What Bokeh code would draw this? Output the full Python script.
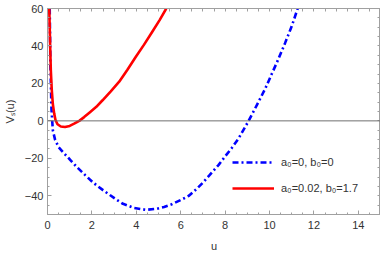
from bokeh.plotting import figure
from bokeh.models import Range1d, Span, Legend, LegendItem, LinearAxis, SingleIntervalTicker, FixedTicker
from bokeh.embed import file_html
from bokeh.resources import INLINE

# blue: a0=0, b0=0
u_blue = [0.10, 0.13, 0.18, 0.24, 0.34, 0.5, 0.72, 1.0, 1.31, 1.7, 2.06, 2.5, 2.81,
          3.1, 3.4, 3.9, 4.43, 4.9, 5.25, 5.6, 6.0, 6.37, 6.7, 7.0, 7.3, 7.71, 8.0,
          8.3, 8.6, 9.06, 9.5, 9.8, 10.1, 10.4, 10.7, 11.0, 11.27]
v_blue = [60, 30, 6, -5, -10, -14, -17, -20.5, -24.5, -29, -33, -37, -39.6,
          -42, -44.3, -46.5, -47.5, -47, -46, -44.5, -42.3, -40, -36.5, -33, -29, -23.5, -19,
          -14.5, -9.5, 0, 10, 17, 25, 33, 41.5, 50.5, 60]

# red: a0=0.02, b0=1.7
u_red = [0.08, 0.10, 0.12, 0.15, 0.19, 0.24, 0.30, 0.36, 0.45, 0.6, 0.79, 1.0, 1.2,
         1.43, 1.65, 1.9, 2.2, 2.48, 2.85, 3.23, 3.6, 3.98, 4.35, 4.72, 5.05, 5.35]
v_red = [60, 50, 40, 27, 17, 9, 4, 0.5, -1.8, -3, -3.3, -2.7, -1.5,
         0, 2, 4.5, 7.5, 11, 15.8, 20.9, 27.3, 34.2, 40.7, 47.6, 53.8, 60]

label_blue = "a₀=0, b₀=0"
label_red = "a₀=0.02, b₀=1.7"

FONT = "Liberation Sans"
FRAME = "#a0a0a0"

p = figure(frame_width=333, frame_height=206, output_backend="svg", toolbar_location=None,
           x_range=Range1d(0, 15), y_range=Range1d(-50, 60),
           min_border_left=36, min_border_right=0, min_border_top=8, min_border_bottom=0)
p.grid.visible = False
p.outline_line_color = FRAME
p.background_fill_color = "white"

p.add_layout(Span(location=0, dimension="width", line_color="#707070", line_width=1))

r_blue = p.line(u_blue, v_blue, line_color="#0000ff", line_width=2.6, line_dash="6 3 2 3")
r_red = p.line(u_red, v_red, line_color="#ff0000", line_width=2.6)

def style(ax):
    ax.axis_line_color = FRAME
    ax.major_tick_line_color = FRAME
    ax.minor_tick_line_color = FRAME
    ax.major_tick_in = 4
    ax.major_tick_out = 0
    ax.minor_tick_in = 2
    ax.minor_tick_out = 0
    ax.major_label_text_font = FONT
    ax.major_label_text_font_size = "11px"
    ax.major_label_text_color = "#333333"
    ax.axis_label_text_font = FONT
    ax.axis_label_text_font_size = "11px"
    ax.axis_label_text_font_style = "normal"
    ax.axis_label_text_color = "#333333"

p.xaxis.ticker = SingleIntervalTicker(interval=2, num_minor_ticks=4)
p.yaxis.ticker = SingleIntervalTicker(interval=20, num_minor_ticks=4)
p.xaxis.axis_label = "u"
p.yaxis.axis_label = "Vₛ(u)"
style(p.xaxis[0])
style(p.yaxis[0])
p.xaxis.major_label_standoff = 6
p.xaxis.axis_label_standoff = 8
p.yaxis.major_label_standoff = 4
p.yaxis.axis_label_standoff = 6

# tick marks only on the top and right frame edges
top = LinearAxis(ticker=FixedTicker(ticks=[], minor_ticks=[i * 0.5 for i in range(31)]))
right = LinearAxis(ticker=FixedTicker(ticks=[], minor_ticks=[-50 + 5 * i for i in range(23)]))
for ax in (top, right):
    style(ax)
    ax.minor_tick_in = 3
    ax.major_label_standoff = 0
    ax.axis_label_standoff = 0
p.add_layout(top, "above")
p.add_layout(right, "right")

legend = Legend(items=[LegendItem(label=label_blue, renderers=[r_blue]),
                       LegendItem(label=label_red, renderers=[r_red])],
                location=(185, 16), orientation="vertical",
                background_fill_alpha=0, border_line_alpha=0,
                padding=0, margin=0, spacing=6,
                glyph_width=42, glyph_height=20, label_height=20,
                label_text_font=FONT, label_text_font_size="11px",
                label_text_color="#333333", label_standoff=7)
p.add_layout(legend, "center")

open("out.html", "w").write(file_html(p, INLINE))
